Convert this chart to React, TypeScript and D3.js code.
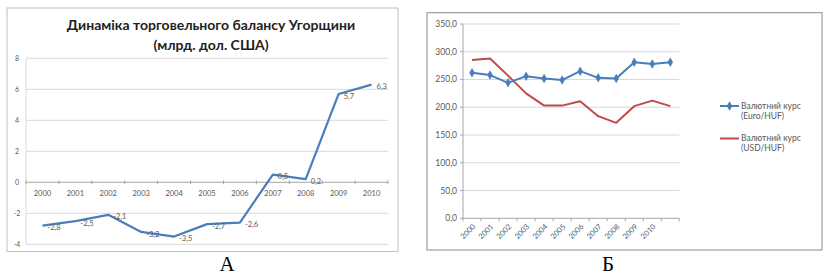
import React from 'react';
import * as d3 from 'd3';

// Chart A: trade balance of Hungary, bn USD
const yearsA = ['2000', '2001', '2002', '2003', '2004', '2005', '2006', '2007', '2008', '2009', '2010'];
const balance = [-2.8, -2.5, -2.1, -3.2, -3.5, -2.7, -2.6, 0.5, 0.2, 5.7, 6.3];
const balanceTicks = [-4, -2, 0, 2, 4, 6, 8];

// Chart Б: exchange rates (12 points, last category has no label)
const rateLabels = ['2000', '2001', '2002', '2003', '2004', '2005', '2006', '2007', '2008', '2009', '2010', ''];
const euroHuf = [262, 258, 244, 256, 252, 249, 265, 253, 252, 281, 278, 281];
const usdHuf = [285, 288, 257, 225, 203, 203, 211, 184, 172, 202, 212, 202];
const rateTicks = [0, 50, 100, 150, 200, 250, 300, 350];
const legendNames = [['Валютний курс', '(Euro/HUF)'], ['Валютний курс', '(USD/HUF)']];

const BLUE = '#4A7EBB';
const RED = '#BE4B48';
const GRID = '#d9d9d9';
const AXIS = '#a6a6a6';
const TXT = '#595959';
const FONT = 'Lato, "Open Sans", sans-serif';

const fmt = (v: number) => String(v).replace('.', ',');

const ChartA = () => {
  const x = d3.scaleBand<string>().domain(yearsA).range([26, 388]);
  const y = d3.scaleLinear().domain([-4, 8]).range([244.3, 58.3]);
  const cx = (d: string) => (x(d) as number) + x.bandwidth() / 2;
  const line = d3.line<number>().x((_, i) => cx(yearsA[i])).y(d => y(d));
  const y0 = y(0);

  return (
    <g>
      <rect x={7} y={8} width={391} height={243.5} fill="#fff" stroke="#bfbfbf" />
      <text x={211} y={29.5} textAnchor="middle" fontFamily={FONT} fontWeight="bold" fontSize={14} fill="#222">
        Динаміка торговельного балансу Угорщини
      </text>
      <text x={211} y={49.5} textAnchor="middle" fontFamily={FONT} fontWeight="bold" fontSize={14} fill="#222">
        (млрд. дол. США)
      </text>
      {balanceTicks.map(t => (
        <g key={t}>
          <line x1={26} x2={388} y1={y(t)} y2={y(t)} stroke={t === 0 ? AXIS : GRID} />
          <text x={17} y={y(t)} dy="0.35em" textAnchor="middle" fontFamily={FONT} fontSize={7} fill={TXT}>{t}</text>
        </g>
      ))}
      <line x1={26} x2={26} y1={y(8)} y2={y(-4)} stroke={GRID} />
      {yearsA.concat(['']).map((d, i) => {
        const bx = 26 + i * x.bandwidth();
        return <line key={'t' + i} x1={bx} x2={bx} y1={y0 - 2} y2={y0 + 2} stroke={AXIS} />;
      })}
      {yearsA.map(d => (
        <text key={d} x={cx(d)} y={193.5} dy="0.35em" textAnchor="middle" fontFamily={FONT} fontSize={7.5} fill={TXT}>{d}</text>
      ))}
      <path d={line(balance) || ''} fill="none" stroke={BLUE} strokeWidth={2.2} strokeLinejoin="round" />
      {balance.map((v, i) => (
        <text key={'l' + i} x={cx(yearsA[i]) + 5} y={y(v) + 2} dy="0.35em" fontFamily={FONT} fontSize={7.5} fill={TXT}>{fmt(v)}</text>
      ))}
    </g>
  );
};

const ChartB = () => {
  const x = d3.scaleBand<number>().domain(d3.range(rateLabels.length)).range([463, 679.3]);
  const y = d3.scaleLinear().domain([0, 350]).range([218.3, 24]);
  const cx = (i: number) => (x(i) as number) + x.bandwidth() / 2;
  const line = d3.line<number>().x((_, i) => cx(i)).y(d => y(d));
  const diamond = d3.symbol().type(d3.symbolDiamond).size(26);

  return (
    <g>
      <rect x={427} y={12.7} width={395} height={237.3} fill="#fff" stroke="#8c8c8c" />
      {rateTicks.map(t => (
        <g key={t}>
          <line x1={463} x2={679.3} y1={y(t)} y2={y(t)} stroke={t === 0 ? AXIS : GRID} />
          <line x1={460} x2={463} y1={y(t)} y2={y(t)} stroke={AXIS} />
          <text x={457} y={y(t)} dy="0.35em" textAnchor="end" fontFamily={FONT} fontSize={8.5} fill={TXT}>{d3.format('.1f')(t).replace('.', ',')}</text>
        </g>
      ))}
      <line x1={463} x2={463} y1={y(350)} y2={y(0)} stroke={AXIS} />
      {rateLabels.concat(['']).map((_, i) => {
        const bx = 463 + i * x.bandwidth();
        return <line key={'t' + i} x1={bx} x2={bx} y1={y(0)} y2={y(0) + 3} stroke={AXIS} />;
      })}
      {rateLabels.map((d, i) => (
        <text key={'x' + i} transform={`translate(${cx(i) + 2},${y(0) + 7}) rotate(-45)`} textAnchor="end" dy="0.35em"
          fontFamily={FONT} fontSize={7.5} fill={TXT}>{d}</text>
      ))}
      <path d={line(usdHuf) || ''} fill="none" stroke={RED} strokeWidth={2} strokeLinejoin="round" />
      <path d={line(euroHuf) || ''} fill="none" stroke={BLUE} strokeWidth={2} strokeLinejoin="round" />
      {euroHuf.map((v, i) => (
        <path key={'m' + i} d={diamond() || ''} transform={`translate(${cx(i)},${y(v)})`} fill={BLUE} />
      ))}
      {legendNames.map((names, k) => {
        const ly = k === 0 ? 106 : 138.5;
        const color = k === 0 ? BLUE : RED;
        return (
          <g key={k}>
            <line x1={720} x2={739} y1={ly} y2={ly} stroke={color} strokeWidth={2} />
            {k === 0 && <path d={diamond() || ''} transform={`translate(729.5,${ly})`} fill={BLUE} />}
            <text x={741} y={ly} dy="0.35em" fontFamily={FONT} fontSize={8.5} fill={TXT}>{names[0]}</text>
            <text x={741} y={ly + 10} dy="0.35em" fontFamily={FONT} fontSize={8.5} fill={TXT}>{names[1]}</text>
          </g>
        );
      })}
    </g>
  );
};

export default function App() {
  return (
    <svg width={828} height={276} style={{ position: 'absolute', left: 0, top: 0, background: '#fff' }}>
      <ChartA />
      <ChartB />
      <text x={227} y={271} textAnchor="middle" fontFamily='"Liberation Serif", "Times New Roman", serif' fontSize={21} fill="#000">А</text>
      <text x={608} y={271} textAnchor="middle" fontFamily='"Liberation Serif", "Times New Roman", serif' fontSize={21} fill="#000">Б</text>
    </svg>
  );
}
